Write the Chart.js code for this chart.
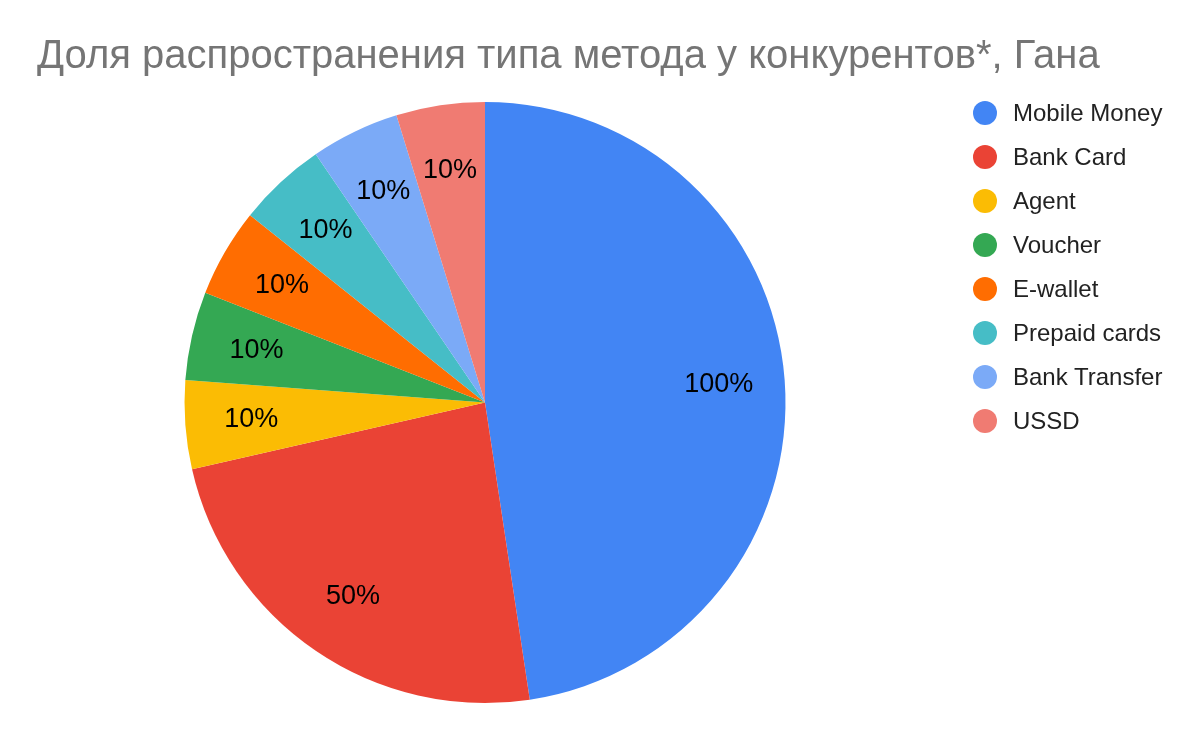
<!DOCTYPE html>
<html lang="ru">
<head>
    <meta charset="UTF-8">
    <title>Доля распространения типа метода у конкурентов*, Гана</title>
    <script src="https://cdn.jsdelivr.net/npm/chart.js"></script>
    <style>
        body {
            margin: 0;
            background: #ffffff;
            font-family: 'Liberation Sans', Arial, sans-serif;
        }
        .frame {
            position: relative;
            width: 1200px;
            height: 741px;
            overflow: hidden;
        }
        .chart-title {
            position: absolute;
            left: 37px;
            top: 34px;
            font-size: 40px;
            line-height: 40px;
            color: #757575;
            white-space: nowrap;
        }
        .legend {
            position: absolute;
            left: 973px;
            top: 91px;
            margin: 0;
            padding: 0;
            list-style: none;
        }
        .legend li {
            display: flex;
            align-items: center;
            height: 44px;
            font-size: 24px;
            line-height: 24px;
            color: #222222;
            white-space: nowrap;
        }
        .legend .dot {
            width: 24px;
            height: 24px;
            border-radius: 50%;
            margin-right: 16px;
            flex: none;
        }
        .chart-box {
            position: absolute;
            left: 0;
            top: 0;
            width: 1200px;
            height: 741px;
        }
    </style>
</head>
<body>
    <div class="frame">
        <div class="chart-box"><canvas id="pieChart"></canvas></div>
        <div class="chart-title">Доля распространения типа метода у конкурентов*, Гана</div>
        <ul class="legend" id="legend"></ul>
    </div>

    <script>
        // данные с графика
        const methods = ['Mobile Money', 'Bank Card', 'Agent', 'Voucher', 'E-wallet', 'Prepaid cards', 'Bank Transfer', 'USSD'];
        const shares = [100, 50, 10, 10, 10, 10, 10, 10];
        const sliceColors = ['#4285F4', '#EA4335', '#FBBC04', '#34A853', '#FF6D01', '#46BDC6', '#7BAAF7', '#F07B72'];

        // легенда справа
        const legendList = document.getElementById('legend');
        methods.forEach((name, i) => {
            const li = document.createElement('li');
            li.innerHTML = `<span class="dot" style="background:${sliceColors[i]}"></span>${name}`;
            legendList.appendChild(li);
        });

        // подписи значений внутри секторов
        const sliceLabels = {
            id: 'sliceLabels',
            afterDatasetsDraw(chart) {
                const ctx = chart.ctx;
                const meta = chart.getDatasetMeta(0);
                ctx.save();
                ctx.font = '27px "Liberation Sans", Arial, sans-serif';
                ctx.fillStyle = '#000000';
                ctx.textAlign = 'center';
                ctx.textBaseline = 'middle';
                meta.data.forEach((arc, i) => {
                    const p = arc.getProps(['x', 'y', 'startAngle', 'endAngle', 'outerRadius'], true);
                    const mid = (p.startAngle + p.endAngle) / 2;
                    const r = p.outerRadius * 0.78;
                    ctx.fillText(shares[i] + '%', p.x + Math.cos(mid) * r, p.y + Math.sin(mid) * r);
                });
                ctx.restore();
            }
        };

        new Chart(document.getElementById('pieChart'), {
            type: 'pie',
            data: {
                labels: methods,
                datasets: [{
                    data: shares,
                    backgroundColor: sliceColors,
                    borderWidth: 0
                }]
            },
            options: {
                responsive: true,
                maintainAspectRatio: false,
                animation: false,
                layout: {
                    padding: { top: 102, bottom: 38, left: 0, right: 230 }
                },
                plugins: {
                    legend: { display: false },
                    tooltip: { enabled: false }
                }
            },
            plugins: [sliceLabels]
        });
    </script>
</body>
</html>
